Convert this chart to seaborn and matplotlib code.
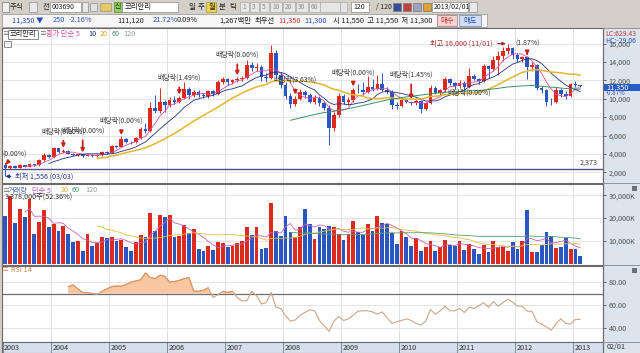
import numpy as np
import pandas as pd
import seaborn as sns
import matplotlib.pyplot as plt
from matplotlib.patches import Rectangle
from matplotlib.lines import Line2D
from matplotlib.ticker import FuncFormatter

sns.set_theme(style="white")
plt.rcParams["font.family"] = ["Noto Sans CJK KR", "DejaVu Sans"]
plt.rcParams["axes.unicode_minus"] = False

# Monthly candles, 2003/03 .. 2013/02 (won)
first_open = 2750
close_2003 = [2450, 2700, 2500, 2750, 2600, 2900, 2750, 3300, 3900, 3650]
close_2004 = [4600, 4200, 4350, 4000, 3850, 3950, 3800, 3900, 3750, 3850, 4200, 4100]
close_2005 = [4900, 4750, 5600, 5350, 5250, 5700, 6700, 6500, 9000, 8700, 9700, 9300]
close_2006 = [9900, 9600, 10100, 11100, 10400, 10700, 10450, 10250, 10800, 10500, 11800, 12100]
close_2007 = [11800, 12000, 12100, 12300, 13700, 13300, 13500, 12400, 12300, 15000, 12600, 11500]
close_2008 = [10300, 9400, 10000, 10700, 10400, 9700, 10100, 9500, 9000, 6800, 8200, 10300]
close_2009 = [9600, 9900, 11000, 10900, 10700, 11300, 11100, 11600, 11000, 10700, 9300, 9200]
close_2010 = [9900, 9700, 9500, 9800, 8900, 9500, 11200, 10600, 10900, 12200, 11700, 11400]
close_2011 = [11700, 11300, 12500, 12200, 11900, 13600, 13200, 14200, 14600, 15200, 15500, 14800]
close_2012 = [14300, 14500, 13500, 13700, 11200, 10900, 9700, 9600, 11000, 10500, 10300, 11600]
close_2013 = [11550, 11350]

high_2003 = [2850, 2800, 2750, 2850, 2800, 3000, 2950, 3400, 4100, 4000]
high_2004 = [4800, 4650, 4500, 4400, 4100, 4050, 4000, 4000, 3950, 3950, 4350, 4300]
high_2005 = [5000, 5000, 5900, 5700, 5400, 5800, 6900, 7400, 9600, 10400, 11200, 9900]
high_2006 = [10200, 10300, 10300, 11800, 11300, 11000, 10900, 10600, 11000, 10900, 12000, 12400]
high_2007 = [12300, 12200, 12400, 12500, 14200, 14000, 13900, 13700, 12800, 15900, 15300, 12900]
high_2008 = [11800, 10600, 10300, 11100, 11000, 10600, 10400, 10300, 9800, 9300, 8600, 10600]
high_2009 = [10500, 10200, 11200, 11600, 11800, 12500, 12200, 12600, 12800, 11300, 11000, 9600]
high_2010 = [10100, 10000, 9800, 10000, 9900, 9700, 11500, 11400, 11100, 12400, 12300, 11800]
high_2011 = [12000, 11900, 13300, 12700, 12300, 13800, 13700, 14600, 15200, 15600, 16000, 15600]
high_2012 = [15000, 14700, 14600, 14000, 13800, 11400, 11100, 10100, 11300, 11200, 10800, 11700]
high_2013 = [11900, 11550]

low_2003 = [1556, 2400, 2450, 2450, 2550, 2550, 2650, 2700, 3250, 3550]
low_2004 = [3600, 4100, 4150, 3950, 3750, 3800, 3700, 3750, 3650, 3700, 3800, 4000]
low_2005 = [4050, 4600, 4700, 5200, 5100, 5150, 5600, 6300, 6400, 8400, 8500, 8600]
low_2006 = [9100, 9400, 9500, 10000, 10000, 10200, 10200, 10100, 10100, 10300, 10400, 11600]
low_2007 = [11500, 11600, 11800, 11900, 12100, 13000, 13000, 11900, 11800, 12100, 12300, 11200]
low_2008 = [10000, 9000, 9200, 9900, 10100, 9500, 9400, 9200, 8800, 5000, 6500, 8000]
low_2009 = [9400, 9300, 9700, 10600, 10400, 10600, 10800, 10900, 10800, 10500, 8900, 8900]
low_2010 = [9100, 9500, 9300, 9300, 8400, 8800, 9400, 10500, 10400, 10700, 11500, 11100]
low_2011 = [11200, 11100, 11200, 12000, 11600, 11800, 12300, 13000, 12600, 14100, 14900, 14300]
low_2012 = [14000, 14000, 12200, 13000, 11000, 10600, 9200, 9300, 9500, 10200, 10000, 10200]
low_2013 = [11300, 11300]

# Volume in thousands of shares
vol_2003 = [21100, 29800, 17700, 24000, 20700, 28400, 13100, 18200, 23600, 16300]
vol_2004 = [17500, 14600, 16700, 13100, 9800, 10200, 5900, 13100, 8000, 9200, 11700, 11200]
vol_2005 = [12000, 9900, 10500, 7600, 5900, 9800, 12700, 12000, 22100, 14600, 21400, 20400]
vol_2006 = [21500, 11700, 12100, 17200, 13600, 15300, 6600, 5600, 8000, 6300, 9500, 9100]
vol_2007 = [7600, 8000, 9100, 9900, 16000, 12800, 16000, 6600, 7000, 26400, 14600, 12400]
vol_2008 = [21100, 13800, 12000, 16300, 24000, 17500, 11000, 16300, 15300, 16700, 16000, 13100]
vol_2009 = [10500, 13100, 18900, 13800, 12800, 17500, 14600, 21100, 17700, 17500, 13400, 8800]
vol_2010 = [14600, 12000, 8000, 11400, 5600, 7600, 9900, 5600, 7600, 10500, 8500, 8000]
vol_2011 = [9900, 6200, 8800, 6600, 4400, 8500, 5400, 9900, 7600, 7600, 5900, 9500]
vol_2012 = [6600, 10200, 23600, 5200, 5200, 8500, 13800, 12400, 7000, 7600, 11400, 6600]
vol_2013 = [6600, 3378]

# RSI 14, from 2004/04 on
rsi_vals = [76, 77.5, 74, 71, 70.6, 70, 69.5,
            72, 74, 76, 76.5, 76.4, 77.8, 80, 81, 82, 88, 84, 83,
            86, 85, 80, 80.5, 81.5, 83, 84, 72, 72, 73, 75, 66.5,
            69, 72, 71, 72, 66.5, 63.5, 64, 72, 68, 61, 62, 71,
            58, 57, 50.5, 46, 47, 51, 53.5, 56, 55, 46.5, 42, 37,
            46, 50, 46.5, 48, 51, 54.6, 55, 55, 54, 52, 54, 49,
            44, 45.5, 46.5, 48, 46.5, 44, 42.5, 46, 56, 52, 55, 59,
            55, 55, 57, 53.5, 58, 57, 59.5, 62, 58, 63, 59, 62,
            65, 62.5, 59, 59, 54.6, 54.6, 45.5, 43.5, 41, 38, 44, 48,
            44, 43.5, 47.5, 47.5]

# ex-dividend marks: month index, text, lift of label above the high (px)
div_month = [0, 12, 16, 24, 36, 48, 60, 72, 84, 96, 108]
div_text = ["(0.00%)", "배당락(0.00%)", "배당락(0.00%)", "배당락(0.00%)", "배당락(1.49%)",
            "배당락(0.00%)", "배당락(3.63%)", "배당락(0.00%)", "배당락(1.45%)", "배당락(0.00%)", "(1.87%)"]
div_lift = [9.5, 18, 23, 15.5, 18, 21.7, 16, 14.7, 25.6, -24.6, 12.5]
ref_line = 2373

closes = np.array(close_2003 + close_2004 + close_2005 + close_2006 + close_2007 + close_2008
                  + close_2009 + close_2010 + close_2011 + close_2012 + close_2013, float)
highs = np.array(high_2003 + high_2004 + high_2005 + high_2006 + high_2007 + high_2008
                 + high_2009 + high_2010 + high_2011 + high_2012 + high_2013, float)
lows = np.array(low_2003 + low_2004 + low_2005 + low_2006 + low_2007 + low_2008
                + low_2009 + low_2010 + low_2011 + low_2012 + low_2013, float)
volume = np.array(vol_2003 + vol_2004 + vol_2005 + vol_2006 + vol_2007 + vol_2008
                  + vol_2009 + vol_2010 + vol_2011 + vol_2012 + vol_2013, float)
opens = np.r_[first_open, closes[:-1]]
highs = np.maximum(highs, np.maximum(opens, closes))
lows = np.minimum(lows, np.minimum(opens, closes))
n = len(closes)
idx = np.arange(n)
rsi = np.r_[np.full(n - len(rsi_vals), np.nan), rsi_vals]
months = pd.date_range("2003-03-01", periods=n, freq="MS")
jan = idx[months.month == 1] - 0.5
year_pos = np.r_[-0.5, jan]
year_lab = [str(y) for y in range(2003, 2014)]

UP, DOWN = "#dc2a1e", "#2a56c4"
df = pd.DataFrame({"i": idx, "close": closes, "vol": volume, "rsi": rsi,
                   "dir": np.where(closes >= opens, "up", "down")})
for w in (5, 10, 20, 60, 120):
    df[f"ma{w}"] = df["close"].rolling(w).mean()
for w in (5, 20, 60):
    df[f"vma{w}"] = df["vol"].rolling(w).mean()
cols = np.where(df["dir"] == "up", UP, DOWN)

W, H = 640, 353
fig = plt.figure(figsize=(W / 100, H / 100), dpi=100)
fig.patch.set_facecolor("#d4d0c8")


def frac(x0, y0, x1, y1):
    return [x0 / W, 1 - y1 / H, (x1 - x0) / W, (y1 - y0) / H]


def rect(x0, y0, x1, y1, fc, ec="none", lw=0.6, z=-1):
    fig.add_artist(Rectangle((x0 / W, 1 - y1 / H), (x1 - x0) / W, (y1 - y0) / H,
                             transform=fig.transFigure, fc=fc, ec=ec, lw=lw, zorder=z))


def label(x, y, s, color="#202020", size=5.3, **kw):
    fig.text(x / W, 1 - y / H, s, color=color, fontsize=size, va="center", **kw)


def hline(y, x0, x1, color="#606060", lw=0.8):
    fig.add_artist(Line2D([x0 / W, x1 / W], [1 - y / H, 1 - y / H], transform=fig.transFigure,
                          color=color, lw=lw))


# ---- toolbar rows
rect(2, 2, 9, 12, "#f0f0f0", "#8a8a8a")
label(10, 7, "주식")
rect(29, 2, 37, 12, "#e8e8e8", "#9a9a9a")
label(43, 7, "전")
rect(50, 2, 81, 12, "white", "#9a9a9a")
label(52, 7, "003690", size=5)
rect(82, 2, 88, 12, "#e8e8e8", "#9a9a9a")
rect(90, 3, 97, 11, "#e0e0e0", "#9a9a9a")
rect(100, 3, 111, 11, "#e8c860", "#9a9a9a")
rect(114, 2, 122, 12, "#8ccf5a", "#6a9a40")
label(115, 7, "신", size=5)
rect(122, 2, 178, 12, "white", "#9a9a9a")
label(125, 7, "코리안리")
for x, s in zip([188, 198, 209, 219, 229], ["일", "주", "월", "분", "틱"]):
    if s == "월":
        rect(206, 2, 216, 12, "#f2d24a", "#b0a040")
    label(x, 7, s)
for x, s in zip([241, 251, 261, 271, 284, 297, 310], ["1", "3", "5", "10", "20", "30", "60"]):
    rect(x - 1, 2, x + (8 if len(s) == 1 else 11), 12, "#e6e6e6", "#b0b0b0")
    label(x + 1, 7, s, color="#8a8a8a", size=4.8)
rect(320, 2, 340, 12, "#e6e6e6", "#b0b0b0")
rect(340, 2, 347, 12, "#e6e6e6", "#b0b0b0")
rect(351, 2, 369, 12, "white", "#9a9a9a")
label(353, 7, "120", size=5)
label(376, 7, "/ 120", size=5)
for x, c in zip([393, 403, 413, 423], ["#3050a0", "#c04040", "#a0a0c0", "#e0a030"]):
    rect(x, 3, x + 8, 11, c, "#808080")
rect(432, 2, 468, 12, "white", "#9a9a9a")
label(434, 7, "2013/02/01", size=5)
rect(469, 2, 477, 12, "#e8e8e8", "#9a9a9a")

rect(2, 14, 487, 27, "#f6f6f6", "#a0a0a0")
label(12, 20.5, "11,350 ▼", color="#2a4fb8")
label(53, 20.5, "250", color="#2a4fb8")
label(69, 20.5, "-2.16%", color="#2a4fb8")
label(117, 20.5, "111,120")
label(153, 20.5, "21.72%", color="#2a4fb8")
label(177, 20.5, "0.09%")
label(219, 20.5, "1,267백만")
label(255, 20.5, "최우선")
label(278, 20.5, "11,350", color="#d03030")
label(304, 20.5, "11,300", color="#2a4fb8")
label(333, 20.5, "시 11,550  고 11,550  저 11,300")
rect(437, 15, 457, 26, "#f6d4d4", "#b08080")
label(440, 20.5, "매수", color="#c03030")
rect(459, 15, 481, 26, "#d2def4", "#8090b0")
label(463, 20.5, "매도", color="#2a4fb8")

# ---- right scale strip
rect(603, 28, 640, 353, "#dce4ee")

ax_p = fig.add_axes(frac(2, 28, 603, 182.5))
ax_v = fig.add_axes(frac(2, 183.5, 603, 264.5))
ax_r = fig.add_axes(frac(2, 265.5, 603, 342))
ax_d = fig.add_axes(frac(2, 342, 603, 352.5))
xlim = (-0.7, 123.7)

for ax in (ax_p, ax_v, ax_r):
    ax.set_facecolor("white")
    ax.set_xlim(*xlim)
    for x in year_pos[1:]:
        ax.axvline(x, color="#dadada", lw=0.6, zorder=0)
    ax.set_xticks([])
    ax.yaxis.tick_right()
    ax.tick_params(axis="y", direction="out", length=2.5, width=0.6, colors="#505050",
                   labelsize=5.2, pad=1.5, right=True)
    for s in ax.spines.values():
        s.set_color("#6a6a6a")
        s.set_linewidth(0.8)

# ---- price panel
for p in range(2000, 17000, 2000):
    ax_p.axhline(p, color="#e0e0e0", lw=0.6, zorder=0)
ax_p.axhline(ref_line, color="#4e4e88", lw=1.0, zorder=1)
ax_p.vlines(idx, lows, highs, colors=cols, lw=0.7, zorder=2)
ax_p.bar(idx, np.maximum(np.abs(closes - opens), 70), bottom=np.minimum(opens, closes),
         width=0.76, color=cols, lw=0, zorder=3)
ma_colors = {"ma5": "#d8509a", "ma10": "#24307e", "ma20": "#e6b52e", "ma60": "#3e9462",
             "ma120": "#8a9aaa"}
ma_widths = {"ma5": 0.6, "ma10": 0.6, "ma20": 1.1, "ma60": 0.7, "ma120": 0.7}
for k, c in ma_colors.items():
    sns.lineplot(data=df, x="i", y=k, ax=ax_p, color=c, lw=ma_widths[k], estimator=None,
                 legend=False, zorder=4)
ax_p.set_ylim(890, 17700)
ax_p.set_xlim(*xlim)
ax_p.set_yticks(range(2000, 17000, 2000))
ax_p.yaxis.set_major_formatter(FuncFormatter(lambda v, _: f"{v:,.0f}"))
ax_p.set_xlabel("")
ax_p.set_ylabel("")

for m, t, lift in zip(div_month, div_text, div_lift):
    arrow = dict(arrowstyle="-|>", color="#c8221c", lw=1.3, mutation_scale=5,
                 shrinkA=1.5, shrinkB=1) if lift > 0 else None
    edge = m == 0
    ax_p.annotate(t, xy=(m, highs[m]), xytext=(-3 if edge else 0, lift),
                  textcoords="offset pixels", ha="left" if edge else "center", va="center",
                  fontsize=5, color="#383838", arrowprops=arrow, annotation_clip=False,
                  zorder=6)

top = int(np.argmax(highs))
ax_p.annotate(f"최고 {highs[top]:,.0f} ({months[top]:%m}/01)", xy=(top - 0.4, highs[top]),
              xytext=(-13, 0), textcoords="offset pixels", ha="right", va="center",
              fontsize=5.2, color="#a82a2a",
              arrowprops=dict(arrowstyle="-|>", color="#a82a2a", lw=0.8, mutation_scale=5,
                              shrinkA=1, shrinkB=0), zorder=6)
bot = int(np.argmin(lows))
ax_p.annotate(f"최저 {lows[bot]:,.0f} (03/03)", xy=(bot, lows[bot]), xytext=(10, 0),
              textcoords="offset pixels", ha="left", va="center", fontsize=5.2, color="#2a3182",
              arrowprops=dict(arrowstyle="-|>", color="#2a3182", lw=0.9, mutation_scale=5,
                              shrinkA=1, shrinkB=0), zorder=6)
ax_p.text(xlim[1] - 1, ref_line + 250, f"{ref_line:,}", ha="right", va="bottom", fontsize=5.2,
          color="#404040")

# ---- volume panel
for v in (10000, 20000, 30000):
    ax_v.axhline(v, color="#e0e0e0", lw=0.6, zorder=0)
sns.barplot(data=df, x="i", y="vol", hue="dir", palette={"up": UP, "down": DOWN},
            native_scale=True, dodge=False, width=0.78, legend=False, errorbar=None,
            saturation=1, linewidth=0, ax=ax_v, zorder=2)
for k, c in zip(("vma5", "vma20", "vma60"), ("#c860b8", "#e0c040", "#5a9e72")):
    sns.lineplot(data=df, x="i", y=k, ax=ax_v, color=c, lw=0.6, estimator=None,
                 legend=False, zorder=4)
ax_v.set_xlim(*xlim)
ax_v.set_ylim(-200, 35100)
ax_v.set_yticks([10000, 20000, 30000])
ax_v.yaxis.set_major_formatter(FuncFormatter(lambda v, _: f"{v:,.0f}K"))
ax_v.set_xticks([])
ax_v.set_xlabel("")
ax_v.set_ylabel("")

# ---- RSI panel
for r in (40, 60, 80):
    ax_r.axhline(r, color="#e0e0e0", lw=0.6, zorder=0)
ax_r.fill_between(idx, rsi, 70, where=np.nan_to_num(rsi) >= 70, interpolate=True,
                  color="#f8c6a0", lw=0, zorder=1)
sns.lineplot(data=df, x="i", y="rsi", ax=ax_r, color="#c9a686", lw=0.8, estimator=None,
             legend=False, zorder=3)
ax_r.plot(idx, np.where(np.nan_to_num(rsi) >= 70, rsi, np.nan), color="#e4915a", lw=0.7,
          zorder=3)
ax_r.axhline(70, color="#6e6e6e", lw=0.9, zorder=2)
ax_r.set_xlim(*xlim)
ax_r.set_ylim(27.8, 94.4)
ax_r.set_yticks([40, 60, 80])
ax_r.yaxis.set_major_formatter(FuncFormatter(lambda v, _: f"{v:.2f}"))
ax_r.set_xlabel("")
ax_r.set_ylabel("")

# ---- date strip
ax_d.set_facecolor("#d6e0ec")
ax_d.set_xlim(*xlim)
ax_d.set_ylim(0, 1)
ax_d.set_xticks([])
ax_d.set_yticks([])
for s in ax_d.spines.values():
    s.set_color("#6a6a6a")
    s.set_linewidth(0.8)
for x, s in zip(year_pos, year_lab):
    ax_d.axvline(x, color="#7a8aa2", lw=0.7)
    ax_d.text(x + 0.25, 0.45, s, fontsize=5.2, color="#303030", va="center", ha="left")
label(607, 347.5, f"{months[-1]:%m}/01", color="#303030", size=5.2)

# ---- panel titles
label(2, 34, "≡", color="#707070", size=5)
rect(8, 29.5, 38, 38.5, "white", "#7a7a7a", z=2)
label(9.5, 34, "코리안리", size=5.2)
label(39, 34, "≡", color="#707070", size=5)
label(46, 34, "종가 단순 5", color="#d04a98", size=5.2)
label(88, 34, "10", color="#24307e", size=5.2)
label(100, 34, "20", color="#d8a820", size=5.2)
label(112, 34, "60", color="#3e9462", size=5.2)
label(123, 34, "120", color="#8a9aaa", size=5.2)
rect(4, 41, 11, 47, "#f0f0f0", "#808080", z=2)

label(2, 190.5, "≡", color="#707070", size=5)
label(8, 190.5, "거래량", color="#4a70a8", size=5.2)
label(32, 190.5, "단순 5", color="#b050b0", size=5.2)
label(61, 190.5, "20", color="#d8b030", size=5.2)
label(72, 190.5, "60", color="#3e9462", size=5.2)
label(85, 190.5, "120", color="#8a9aaa", size=5.2)
label(5, 198, f"{volume[-1] * 1000:,.0f}주(52.36%)", color="#303030", size=5.2)
label(2, 270.5, "≡ RSI 14", color="#d08a4e", size=5.2)

# ---- right strip extras
label(605, 34, "LC:629.43", color="#c83a3a", size=5)
label(605, 41, "HC:-29.06", color="#2a4fb8", size=5)
rect(603, 83.5, 640, 91, "#2a5cc8", z=2)
label(606, 87.3, f"{closes[-1]:,.0f}", color="white", size=5.2, zorder=6)
label(606, 93.2, "-0.87%", color="#2a4fb8", size=4.4)
rect(632, 186, 637, 191, "#707070", z=2)
rect(632, 268, 637, 273, "#707070", z=2)
fig.add_artist(Line2D([603 / W, 603 / W], [0, 1 - 28 / H], transform=fig.transFigure,
                      color="#6a6a6a", lw=0.8))
for y in (28, 183, 265, 342):
    hline(y, 603, 640, color="#8a94a2", lw=0.7)

fig.savefig("out.png", dpi=100)
